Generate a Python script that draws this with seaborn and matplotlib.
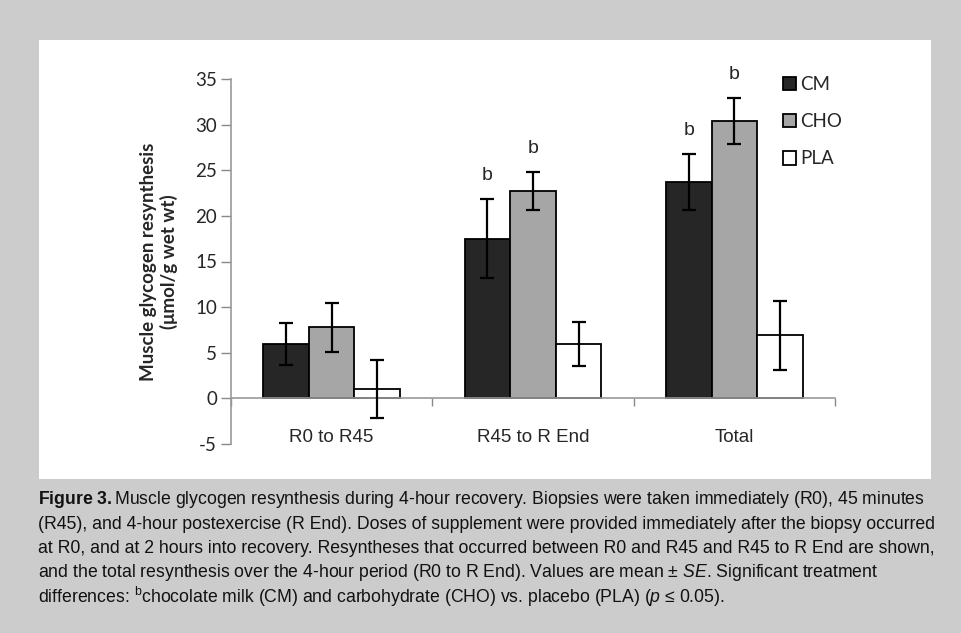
import matplotlib
matplotlib.use("Agg")
import matplotlib.pyplot as plt
import seaborn as sns
import pandas as pd

# values
periods = ["R0 to R45", "R45 to R End", "Total"]
groups = ["CM", "CHO", "PLA"]
cm_mean = [6.0, 17.5, 23.7]
cho_mean = [7.8, 22.7, 30.4]
pla_mean = [1.0, 6.0, 6.9]
cm_se = [2.3, 4.3, 3.1]
cho_se = [2.7, 2.1, 2.5]
pla_se = [3.2, 2.4, 3.8]
# significance marks ("b") per group, per period
cm_sig = ["", "b", "b"]
cho_sig = ["", "b", "b"]
pla_sig = ["", "", ""]
yticks = [-5, 0, 5, 10, 15, 20, 25, 30, 35]

df = pd.DataFrame({
    "period": periods * 3,
    "group": [g for g in groups for _ in periods],
    "value": cm_mean + cho_mean + pla_mean,
})
errs = [cm_se, cho_se, pla_se]
sigs = [cm_sig, cho_sig, pla_sig]
means = [cm_mean, cho_mean, pla_mean]

sns.set_theme(style="white")
plt.rcParams["font.family"] = ["Lato", "DejaVu Sans"]
plt.rcParams["axes.unicode_minus"] = False
plt.rcParams["mathtext.fontset"] = "custom"
plt.rcParams["mathtext.rm"] = "Liberation Sans"
plt.rcParams["mathtext.it"] = "Liberation Sans:italic"
plt.rcParams["mathtext.bf"] = "Liberation Sans:bold"

fig = plt.figure(figsize=(9.62, 6.33), dpi=100)
fig.patch.set_facecolor("#cccccc")
# white panel behind the chart
fig.patches.append(plt.Rectangle((39 / 962, 1 - 479 / 633), (931 - 39) / 962, (479 - 40) / 633,
                                 transform=fig.transFigure, facecolor="white", edgecolor="none", zorder=-5))

ax = fig.add_axes([231 / 962, 1 - 444 / 633, (835 - 231) / 962, (444 - 79) / 633])
ax.set_facecolor("none")

sns.barplot(data=df, x="period", y="value", hue="group", order=periods, hue_order=groups,
            palette=["#262626", "#a6a6a6", "#ffffff"], width=0.68, errorbar=None,
            edgecolor="black", linewidth=1.3, saturation=1, ax=ax)

for cont, err, sig, mean in zip(ax.containers, errs, sigs, means):
    xs = [b.get_x() + b.get_width() / 2 for b in cont]
    ax.errorbar(xs, mean, yerr=err, fmt="none", ecolor="black", elinewidth=1.6,
                capsize=5, capthick=1.6, zorder=5)
    for x, m, e, s in zip(xs, mean, err, sig):
        if s:
            ax.annotate(s, (x, m + e), xytext=(0, 11), textcoords="offset points",
                        ha="center", va="bottom", fontsize=14, family=["Liberation Sans"])

ax.set_ylim(-5, 35)
ax.set_xlim(-0.5, 2.5)
ax.set_yticks(yticks)
ax.tick_params(axis="y", labelsize=13.5, length=7, width=1, color="#888888", direction="out", left=True, pad=3)
for s in ["top", "right"]:
    ax.spines[s].set_visible(False)
for s in ["left", "bottom"]:
    ax.spines[s].set_color("#999999")
    ax.spines[s].set_linewidth(1.2)
ax.spines["bottom"].set_position(("data", 0))

# boundary ticks on the zero line, category labels as minor ticks
ax.set_xticks([-0.5, 0.5, 1.5, 2.5])
ax.set_xticklabels([])
ax.tick_params(axis="x", which="major", length=6, width=1, color="#888888", direction="out", bottom=True)
ax.set_xticks([0, 1, 2], minor=True)
ax.set_xticklabels(periods, minor=True, family=["Liberation Sans"])
ax.tick_params(axis="x", which="minor", length=0, labelsize=13.5, pad=22)
ax.set_xlabel("")
ax.set_ylabel("Muscle glycogen resynthesis\n(μmol/g wet wt)", fontsize=13.5, fontweight="bold", labelpad=12)

handles, labels = ax.get_legend_handles_labels()
ax.legend(handles, labels, loc="upper left", bbox_to_anchor=(783 / 962, 1 - 76 / 633),
          bbox_transform=fig.transFigure, frameon=False, fontsize=13.5, handlelength=0.7,
          handleheight=0.7, handletextpad=0.2, labelspacing=1.08, borderpad=0, borderaxespad=0)

# caption
cap_font = ["Liberation Sans", "DejaVu Sans"]
caption = [
    r"$\mathbf{Figure\ 3.}$Muscle glycogen resynthesis during 4-hour recovery. Biopsies were taken immediately (R0), 45 minutes",
    "(R45), and 4-hour postexercise (R End). Doses of supplement were provided immediately after the biopsy occurred",
    "at R0, and at 2 hours into recovery. Resyntheses that occurred between R0 and R45 and R45 to R End are shown,",
    r"and the total resynthesis over the 4-hour period (R0 to R End). Values are mean ± $\mathit{SE}$. Significant treatment",
    r"differences: $^{\mathrm{b}}$chocolate milk (CM) and carbohydrate (CHO) vs. placebo (PLA) ($\mathit{p}$ ≤ 0.05).",
]
for i, line in enumerate(caption):
    fig.text(38 / 962, 1 - (500 + 24.2 * i) / 633, line, ha="left", va="center",
             fontsize=12.7, family=cap_font, color="#111111")

fig.savefig("out.png", dpi=100, facecolor=fig.get_facecolor())
